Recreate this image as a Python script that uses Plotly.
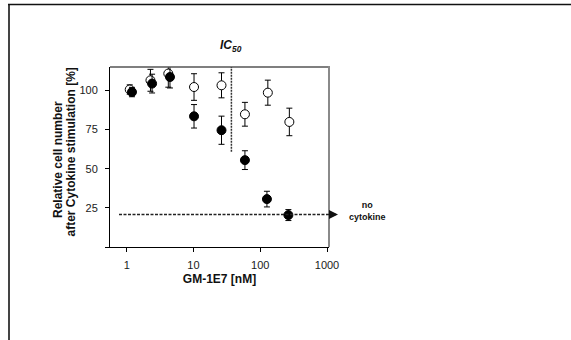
import math
import plotly.graph_objects as go

# ---- data ----
open_x = [1.11, 2.27, 4.2, 10.2, 26.3, 59, 130, 273]
open_y = [100.6, 106.5, 110.8, 102.2, 103.3, 84.8, 98.6, 79.9]
open_err = [3, 7, 8.7, 8.5, 8, 7.6, 8, 8.8]

filled_x = [1.2, 2.4, 4.45, 10.2, 26.3, 59, 126, 264]
filled_y = [99.0, 104.4, 108.6, 83.5, 74.6, 55.5, 30.6, 20.4]
filled_err = [3, 6, 7, 7.5, 9, 6, 5, 3.5]

no_cytokine_level = 20.8
ic50 = 37
ic50_line_y = [60.8, 121]

x_tickvals = [1, 10, 100, 1000]
x_ticktext = ["1", "10", "100", "1000"]
y_tickvals = [0, 25, 50, 75, 100]
y_ticktext = ["", "25", "50", "75", "100"]

y_title_lines = ["Relative cell number", "after Cytokine stimulation [%]"]

# ---- layout geometry ----
W, H = 571, 340
L, R, T, B = 110, 242, 67, 93
PW, PH = W - L - R, H - T - B
XR = [-0.25, 3.03]
YR = [0, 115]


def xp(px):
    return (px - L) / PW


def yp(py):
    return (H - B - py) / PH


FONT = "Liberation Sans, Arial, sans-serif"
TICKFONT = dict(family=FONT, size=11, color="#1a1a1a")

fig = go.Figure()
fig.add_trace(go.Scatter(
    x=open_x, y=open_y, mode="markers",
    error_y=dict(type="data", array=open_err, color="black", thickness=1, width=3),
    marker=dict(symbol="circle", size=9, color="white", line=dict(color="black", width=1)),
    cliponaxis=False, showlegend=False))
fig.add_trace(go.Scatter(
    x=filled_x, y=filled_y, mode="markers",
    error_y=dict(type="data", array=filled_err, color="black", thickness=1, width=3),
    marker=dict(symbol="circle", size=9, color="black", line=dict(color="black", width=1)),
    cliponaxis=False, showlegend=False))

shapes = [
    # top frame line
    dict(type="line", xref="paper", yref="paper", x0=0, x1=1, y0=1, y1=1,
         line=dict(color="#555", width=1.5)),
    # right frame line
    dict(type="line", xref="paper", yref="paper", x0=1, x1=1, y0=0, y1=1.005,
         line=dict(color="#8a8a8a", width=2)),
    # IC50 vertical dotted line
    dict(type="line", xref="x", yref="y", x0=ic50, x1=ic50,
         y0=ic50_line_y[0], y1=ic50_line_y[1], line=dict(color="#333", width=1.5, dash="2px,1px")),
    # no-cytokine dashed line
    dict(type="line", xref="paper", yref="y", x0=xp(119), x1=xp(333),
         y0=no_cytokine_level, y1=no_cytokine_level, line=dict(color="#222", width=1.5, dash="3px,1.5px")),
    # outer border
    dict(type="line", xref="paper", yref="paper", x0=xp(9), x1=xp(9), y0=yp(4), y1=yp(345),
         line=dict(color="#444", width=2)),
    dict(type="line", xref="paper", yref="paper", x0=xp(8), x1=xp(572), y0=yp(4.5), y1=yp(4.5),
         line=dict(color="#111", width=1.5)),
]

annotations = [
    dict(xref="paper", yref="y", x=xp(338), y=no_cytokine_level, ax=-7, ay=0,
         showarrow=True, arrowhead=2, arrowsize=1.2, arrowwidth=1.5, arrowcolor="#111", text=""),
    dict(xref="paper", yref="paper", x=xp(367), y=yp(210.5), xanchor="center", yanchor="middle",
         showarrow=False, text="<b>no<br>cytokine</b>",
         font=dict(family=FONT, size=9, color="#111"), align="center"),
    dict(xref="x", yref="paper", x=math.log10(ic50), y=yp(46.5), xanchor="center", yanchor="middle",
         showarrow=False, text="<b><i>IC</i></b><sub><b><i>50</i></b></sub>",
         font=dict(family=FONT, size=12, color="#111")),
    dict(xref="paper", yref="paper", x=xp(58), y=yp(160), xanchor="center", yanchor="middle",
         showarrow=False, textangle=-90, text="<b>" + y_title_lines[0] + "</b>",
         font=dict(family=FONT, size=12, color="#111")),
    dict(xref="paper", yref="paper", x=xp(70.5), y=yp(152), xanchor="center", yanchor="middle",
         showarrow=False, textangle=-90, text="<b>" + y_title_lines[1] + "</b>",
         font=dict(family=FONT, size=12, color="#111")),
]

fig.update_layout(
    width=W, height=H, margin=dict(l=L, r=R, t=T, b=B, autoexpand=False),
    paper_bgcolor="white", plot_bgcolor="white",
    font=dict(family=FONT, size=11, color="#222"),
    shapes=shapes, annotations=annotations,
    xaxis=dict(type="log", range=XR, tickvals=x_tickvals, ticktext=x_ticktext, tickfont=TICKFONT,
               showgrid=False, zeroline=False, showline=True, linecolor="black", linewidth=1,
               ticks="outside", ticklen=4, tickcolor="black", ticklabelstandoff=4,
               title=dict(text="<b>GM-1E7 [nM]</b>", font=dict(family=FONT, size=12, color="#111"), standoff=4)),
    yaxis=dict(range=YR, tickvals=y_tickvals, ticktext=y_ticktext, tickfont=TICKFONT,
               showgrid=False, zeroline=False, showline=True, linecolor="black", linewidth=1,
               ticks="outside", ticklen=4, tickcolor="black", ticklabelstandoff=5),
)

fig.write_html("out.html", post_script="document.body.style.margin='0px';",
               config={"displayModeBar": False})
